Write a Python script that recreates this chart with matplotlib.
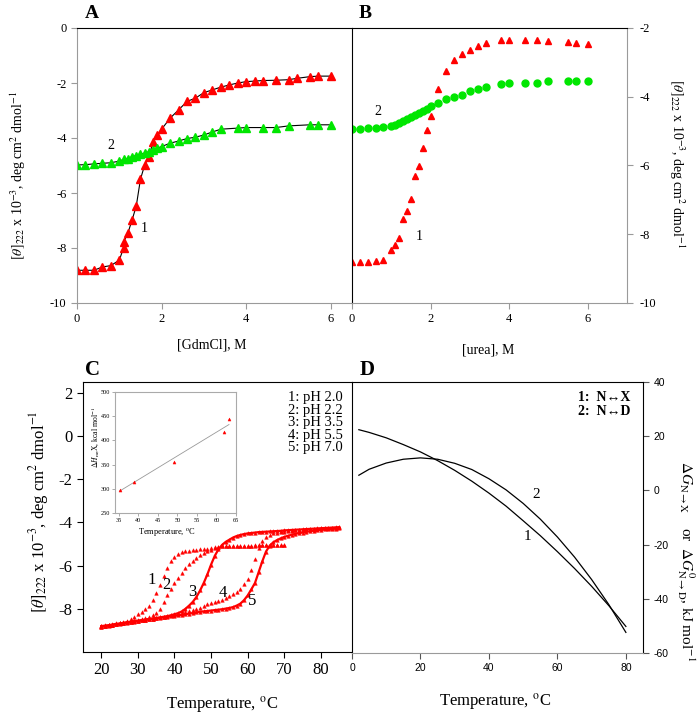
import numpy as np
import matplotlib
matplotlib.use('Agg')
import matplotlib.pyplot as plt

plt.rcParams['font.family'] = ['Liberation Serif', 'DejaVu Serif']
plt.rcParams['mathtext.fontset'] = 'stix'
plt.rcParams['axes.unicode_minus'] = False

# ---- panel A: GdmCl ----
gdm_x1 = [0, 0.2, 0.4, 0.6, 0.8, 1.0, 1.1, 1.1, 1.2, 1.3, 1.4, 1.5, 1.6, 1.7, 1.8, 1.9, 2.0,
          2.2, 2.4, 2.6, 2.8, 3.0, 3.2, 3.4, 3.6, 3.8, 4.0, 4.2, 4.4, 4.7, 5.0, 5.2, 5.5, 5.7, 6.0]
gdm_y1 = [-8.81, -8.81, -8.81, -8.69, -8.64, -8.44, -8.0, -7.78, -7.47, -6.99, -6.48, -5.5, -4.98,
          -4.68, -4.13, -3.89, -3.68, -3.28, -2.98, -2.67, -2.55, -2.35, -2.25, -2.15, -2.07, -2.0,
          -1.95, -1.93, -1.91, -1.9, -1.88, -1.83, -1.77, -1.75, -1.75]
gdm_x2 = [0, 0.2, 0.4, 0.6, 0.8, 1.0, 1.1, 1.2, 1.3, 1.4, 1.5, 1.6, 1.7, 1.8, 1.9, 2.0,
          2.2, 2.4, 2.6, 2.8, 3.0, 3.2, 3.4, 3.8, 4.0, 4.4, 4.7, 5.0, 5.5, 5.7, 6.0]
gdm_y2 = [-4.98, -4.97, -4.94, -4.92, -4.9, -4.84, -4.78, -4.75, -4.68, -4.64, -4.59, -4.55, -4.5,
          -4.43, -4.37, -4.31, -4.19, -4.11, -4.02, -3.97, -3.89, -3.78, -3.68, -3.64, -3.62, -3.62,
          -3.62, -3.56, -3.52, -3.52, -3.52]

# ---- panel B: urea ----
urea_x = [0, 0.2, 0.4, 0.6, 0.8, 1.0, 1.1, 1.2, 1.3, 1.4, 1.5, 1.6, 1.7, 1.8, 1.9, 2.0,
          2.2, 2.4, 2.6, 2.8, 3.0, 3.2, 3.4, 3.8, 4.0, 4.4, 4.7, 5.0, 5.5, 5.7, 6.0]
urea_y1 = [-8.8, -8.8, -8.8, -8.78, -8.75, -8.46, -8.31, -8.11, -7.56, -7.31, -6.97, -6.3, -6.01,
           -5.5, -4.96, -4.57, -3.78, -3.25, -2.93, -2.76, -2.63, -2.52, -2.43, -2.35, -2.35, -2.35,
           -2.36, -2.39, -2.42, -2.44, -2.46]
urea_y2 = [-4.95, -4.95, -4.91, -4.9, -4.89, -4.86, -4.82, -4.77, -4.71, -4.64, -4.59, -4.54, -4.47,
           -4.42, -4.35, -4.28, -4.17, -4.08, -4.0, -3.94, -3.84, -3.78, -3.71, -3.63, -3.6, -3.6,
           -3.61, -3.55, -3.54, -3.54, -3.53]

# ---- panel C: thermal melts ----
temp_short = list(range(20, 71))
temp_long = list(range(20, 86))
ph20 = [-8.8, -8.77, -8.74, -8.71, -8.68, -8.64, -8.6, -8.55, -8.48, -8.38, -8.26, -8.15, -8.03,
        -7.86, -7.6, -7.28, -6.92, -6.5, -6.1, -5.8, -5.58, -5.45, -5.38, -5.34, -5.31, -5.29, -5.27,
        -5.25, -5.23, -5.21, -5.19, -5.16, -5.13, -5.11, -5.1, -5.09, -5.09, -5.08, -5.08, -5.07,
        -5.07, -5.07, -5.06, -5.06, -5.06, -5.05, -5.05, -5.05, -5.05, -5.05, -5.05]
ph22 = [-8.82, -8.79, -8.76, -8.73, -8.7, -8.67, -8.64, -8.61, -8.58, -8.55, -8.5, -8.46, -8.42,
        -8.36, -8.28, -8.18, -8.02, -7.7, -7.35, -7.08, -6.82, -6.58, -6.35, -6.12, -5.93, -5.77,
        -5.63, -5.52, -5.42, -5.33, -5.26, -5.2, -5.15, -5.11, -5.1, -5.1, -5.09, -5.09, -5.08, -5.08,
        -5.07, -5.07, -5.07, -5.06, -5.06, -5.06, -5.05, -5.05, -5.05, -5.05, -5.05]
ph35 = [-8.8, -8.78, -8.76, -8.73, -8.7, -8.68, -8.65, -8.62, -8.6, -8.57, -8.55, -8.52, -8.5,
        -8.47, -8.45, -8.42, -8.4, -8.37, -8.34, -8.3, -8.25, -8.2, -8.12, -8.0, -7.85, -7.68,
        -7.45, -7.15, -6.8, -6.4, -5.95, -5.55, -5.25, -5.04, -4.9, -4.8, -4.7, -4.63, -4.58, -4.54,
        -4.51, -4.49, -4.47, -4.45, -4.44, -4.43, -4.42, -4.41, -4.4, -4.39, -4.37, -4.36, -4.35,
        -4.34, -4.33, -4.32, -4.31, -4.3, -4.29, -4.28, -4.27, -4.26, -4.25, -4.24, -4.23, -4.22]
ph55 = [-8.8, -8.78, -8.76, -8.73, -8.7, -8.68, -8.65, -8.62, -8.6, -8.57, -8.55, -8.52, -8.5,
        -8.47, -8.45, -8.42, -8.4, -8.37, -8.34, -8.31, -8.28, -8.25, -8.2, -8.15, -8.1, -8.05,
        -8.0, -7.94, -7.88, -7.8, -7.73, -7.67, -7.62, -7.57, -7.5, -7.42, -7.33, -7.22, -7.08,
        -6.85, -6.6, -6.2, -5.7, -5.2, -4.85, -4.68, -4.57, -4.51, -4.47, -4.45, -4.43, -4.41,
        -4.39, -4.37, -4.35, -4.34, -4.32, -4.31, -4.3, -4.29, -4.28, -4.27, -4.26, -4.25, -4.24, -4.23]
ph70 = [-8.82, -8.8, -8.78, -8.75, -8.72, -8.7, -8.67, -8.64, -8.62, -8.59, -8.57, -8.54, -8.52,
        -8.49, -8.47, -8.44, -8.42, -8.39, -8.37, -8.34, -8.32, -8.3, -8.28, -8.25, -8.22, -8.2,
        -8.17, -8.14, -8.12, -8.1, -8.08, -8.06, -8.04, -8.02, -7.99, -7.96, -7.92, -7.85, -7.76,
        -7.6, -7.38, -7.1, -6.8, -6.3, -5.8, -5.35, -5.08, -4.92, -4.82, -4.74, -4.67, -4.62, -4.57,
        -4.53, -4.5, -4.47, -4.44, -4.41, -4.38, -4.36, -4.34, -4.32, -4.31, -4.3, -4.29, -4.28]
ph_labels = ['1: pH 2.0', '2: pH 2.2', '3: pH 3.5', '4: pH 5.5', '5: pH 7.0']

# inset: dH vs Tm
tm = [35.2, 38.8, 49.2, 61.8, 63.2]
dh = [298, 315, 356, 418, 444]

# ---- panel D: stability curves ----
d_temp = [2, 5, 10, 15, 20, 25, 30, 35, 40, 45, 50, 55, 60, 65, 70, 75, 80]
dg_nx = [22.4, 21.4, 19.4, 16.9, 14.2, 11.0, 7.4, 3.4, -1.0, -5.8, -11.2, -16.7, -22.6, -28.8,
         -35.4, -42.5, -50.2]
dg_nd = [5.6, 7.8, 10.1, 11.5, 12.0, 11.5, 10.0, 7.7, 4.3, 0.2, -4.8, -10.6, -17.2, -24.6,
         -32.9, -42.1, -52.4]

RED = '#ff0000'
GREEN = '#00e600'
GRAY = '#9a9a9a'

W, H = 699, 715
fig = plt.figure(figsize=(W / 100, H / 100), dpi=100)


def rect(l, t, r, b):
    return [l / W, 1 - b / H, (r - l) / W, (b - t) / H]


def ftext(x, y, s, **kw):
    fig.text(x / W, 1 - y / H, s, ha='center', va='center', **kw)


ylab = r'$[\theta]_{222}$ x 10$^{-3}$, deg cm$^{2}$ dmol$^{-1}$'

# A
axA = fig.add_axes(rect(77, 28, 352, 303))
axA.plot(gdm_x1, gdm_y1, '-', color='k', lw=0.8)
axA.plot(gdm_x2, gdm_y2, '-', color='k', lw=0.8)
axA.plot(gdm_x1, gdm_y1, '^', color=RED, ms=5.5, mec=RED)
axA.plot(gdm_x2, gdm_y2, '^', color=GREEN, ms=5.5, mec=GREEN)
axA.set_xlim(0, 6.5)
axA.set_ylim(-10, 0)
axA.set_xticks([0, 2, 4, 6])
axA.set_yticks([0, -2, -4, -6, -8, -10])
axA.tick_params(direction='out', length=4, color=GRAY, labelsize=9)
for s in ['left', 'bottom']:
    axA.spines[s].set_color(GRAY)
axA.spines['right'].set_visible(False)
axA.text(0.8, -4.28, '2', fontsize=10, ha='center', va='center')
axA.text(1.59, -7.29, '1', fontsize=10, ha='center', va='center')

# B
axB = fig.add_axes(rect(352, 28, 627, 303))
axB.plot(urea_x, urea_y1, '^', color=RED, ms=4.5, mec=RED)
axB.plot(urea_x, urea_y2, 'o', color=GREEN, ms=5, mec=GREEN)
axB.set_xlim(0, 7)
axB.set_ylim(-10, -2)
axB.set_xticks([0, 2, 4, 6])
axB.set_yticks([-2, -4, -6, -8, -10])
axB.yaxis.tick_right()
axB.tick_params(direction='out', length=4, color=GRAY, labelsize=9)
axB.tick_params(axis='y', pad=5)
for s in ['right', 'bottom']:
    axB.spines[s].set_color(GRAY)
axB.text(0.65, -4.43, '2', fontsize=10, ha='center', va='center')
axB.text(1.72, -8.06, '1', fontsize=10, ha='center', va='center')

ftext(92, 14, 'A', fontsize=14, fontweight='bold')
ftext(365, 13, 'B', fontsize=14, fontweight='bold')
ftext(212, 345, '[GdmCl], M', fontsize=10)
ftext(488, 350, '[urea], M', fontsize=10)
ftext(18, 175, ylab, fontsize=10, rotation=90)
ftext(677, 164, ylab, fontsize=10, rotation=270)

# C
axC = fig.add_axes(rect(83, 382, 352, 652))
for yv in [ph20, ph22, ph55]:
    axC.plot(temp_short if len(yv) == len(temp_short) else temp_long, yv, '^',
             color=RED, ms=2.6, mec=RED, mew=0.3)
for yv in [ph35, ph70]:
    axC.plot(temp_long, yv, '-', color=RED, lw=1.6)
    axC.plot(temp_long, yv, '^', color=RED, ms=2.6, mec=RED, mew=0.3)
axC.set_xlim(15, 88.5)
axC.set_ylim(-10, 2.5)
axC.set_xticks([20, 30, 40, 50, 60, 70, 80])
axC.set_yticks([2, 0, -2, -4, -6, -8])
axC.tick_params(direction='out', length=4, labelsize=12)
axC.spines['right'].set_visible(False)
for lab, (lx, ly) in zip('12345', [(33.7, -6.65), (37.8, -6.88), (44.8, -7.23),
                                   (53.3, -7.27), (61.3, -7.62)]):
    axC.text(lx, ly, lab, fontsize=12, ha='center', va='center')
axC.text(0.965, 0.965, '\n'.join(ph_labels), transform=axC.transAxes, fontsize=10.5,
         ha='right', va='top', linespacing=0.95)
ftext(92, 370, 'C', fontsize=15, fontweight='bold')
ftext(222, 705, r'Temperature, $^{\rm o}$C', fontsize=12)
ftext(39, 512, r'$[\theta]_{222}$ x 10$^{-3}$, deg cm$^{2}$ dmol$^{-1}$', fontsize=12, rotation=90)

# inset
axI = fig.add_axes(rect(115, 392, 236, 513))
k, b = np.polyfit(tm, dh, 1)
fx = np.array([min(tm), max(tm)])
axI.plot(fx, k * fx + b, '-', color='#999999', lw=0.6)
axI.plot(tm, dh, '^', color=RED, ms=2.2, mec=RED, mew=0.3)
axI.set_xlim(34, 65)
axI.set_ylim(250, 500)
axI.set_xticks([35, 40, 45, 50, 55, 60, 65])
axI.set_yticks([250, 300, 350, 400, 450, 500])
axI.tick_params(direction='out', length=2, width=0.5, labelsize=4.5, pad=1.5, color='#888888')
for s in axI.spines.values():
    s.set_color('#aaaaaa')
    s.set_linewidth(0.8)
ftext(167, 533, r'Temperature, $^{\rm o}$C', fontsize=6)
ftext(95, 437, r'$\Delta H_{\rm m}$,X, kcal mol$^{-1}$', fontsize=5.5, rotation=90)

# D
axD = fig.add_axes(rect(352, 382, 643, 653))
axD.plot(d_temp, dg_nx, '-', color='k', lw=0.9)
axD.plot(d_temp, dg_nd, '-', color='k', lw=0.9)
axD.set_xlim(0, 85)
axD.set_ylim(-60, 40)
axD.set_xticks([0, 20, 40, 60, 80])
axD.set_yticks([40, 20, 0, -20, -40, -60])
axD.yaxis.tick_right()
axD.tick_params(direction='out', length=4, color='#555555', labelsize=7.5)
for lbl in axD.get_xticklabels() + axD.get_yticklabels():
    lbl.set_family('Liberation Sans')
axD.spines['bottom'].set_color(GRAY)
axD.text(53.9, -1.6, '2', fontsize=11, ha='center', va='center')
axD.text(51.4, -17, '1', fontsize=11, ha='center', va='center')
axD.text(0.955, 0.965, '1:  N\u2194X\n2:  N\u2194D', transform=axD.transAxes, fontsize=10,
         fontweight='bold', ha='right', va='top', linespacing=1.1)
ftext(367, 370, 'D', fontsize=15, fontweight='bold')
ftext(495, 702, r'Temperature, $^{\rm o}$C', fontsize=12)
ftext(686, 561, r'$\Delta G_{\rm N\rightarrow X}$    or  $\Delta G^{0}_{\rm N\rightarrow D}$, kJ mol$^{-1}$',
      fontsize=11, rotation=270)

fig.savefig('out.png', dpi=100)
